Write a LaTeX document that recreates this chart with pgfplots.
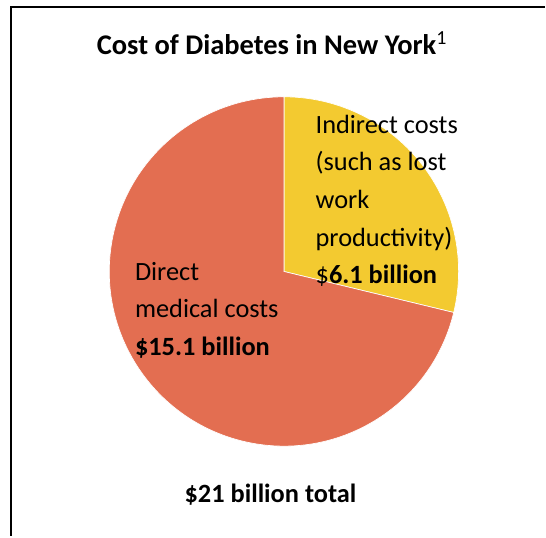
\documentclass[border=0pt]{standalone}
\usepackage{pgfplots}
\pgfplotsset{compat=1.18}
\usepackage{pgfplotstable}
\usepackage{fontspec}
\setmainfont{Carlito}
\definecolor{direct}{RGB}{227,110,81}
\definecolor{indirect}{RGB}{243,202,48}
\pgfplotstableread{
label value
Indirect 6.1
Direct 15.1
}\costs
\begin{document}
\begin{tikzpicture}
\pgfplotstablegetelem{0}{value}\of\costs \let\vInd\pgfplotsretval
\pgfplotstablegetelem{1}{value}\of\costs \let\vDir\pgfplotsretval
\pgfmathsetmacro\angInd{360*\vInd/(\vInd+\vDir)}
\pgfmathsetmacro\endA{90-\angInd}
\def\R{131.25pt}
\begin{axis}[
  width=409.5pt, height=402.75pt, scale only axis,
  xmin=0, xmax=546, ymin=0, ymax=537,
  hide axis, clip=false,
]
\fill[indirect, draw=white, line width=0.5pt] (axis cs:284.5,265) -- ++(90:\R) arc[start angle=90, end angle=\endA, radius=\R] -- cycle;
\fill[direct, draw=white, line width=0.5pt] (axis cs:284.5,265) -- ++(\endA:\R) arc[start angle=\endA, end angle=-270, radius=\R] -- cycle;
\draw[line width=1.6pt] (axis cs:546,530) -- (axis cs:11,530) -- (axis cs:11,0);
\tikzset{lbl/.style={inner sep=0pt, font=\fontsize{19.8}{24}\selectfont}}
\node[inner sep=0pt, anchor=base, font=\fontsize{21.4}{26}\selectfont] at (axis cs:272.5,482) {\bfseries Cost of Diabetes in New York\textsuperscript{\mdseries 1}};
\node[lbl, anchor=base west] at (axis cs:316,403) {Indirect costs};
\node[lbl, anchor=base west] at (axis cs:316,366) {(such as lost};
\node[lbl, anchor=base west] at (axis cs:316,328) {work};
\node[lbl, anchor=base west] at (axis cs:316,290) {productivity)};
\node[lbl, anchor=base west] at (axis cs:316,253) {\$\textbf{6.1 billion}};
\node[lbl, anchor=base west] at (axis cs:135,256) {Direct};
\node[lbl, anchor=base west] at (axis cs:135,219) {medical costs};
\node[lbl, anchor=base west] at (axis cs:135,181) {\textbf{\$15.1 billion}};
\node[lbl, anchor=base] at (axis cs:271,34) {\bfseries \$21 billion total};
\end{axis}
\path (0,0) rectangle (409.5pt,402.75pt);
\end{tikzpicture}
\end{document}
